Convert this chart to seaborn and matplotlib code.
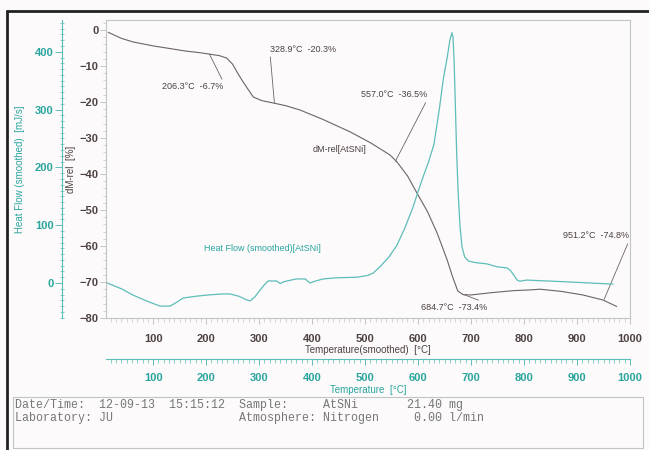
import matplotlib
matplotlib.use("Agg")
import matplotlib.pyplot as plt
from matplotlib.lines import Line2D
from matplotlib.patches import Rectangle
from matplotlib.ticker import MultipleLocator
import seaborn as sns
import pandas as pd

# dM-rel curve (temperature in °C, mass change in %)
dm_temp = [15, 40, 62, 100, 126, 160, 189, 207, 225, 239, 250, 258, 268, 277, 289,
           305, 328, 350, 377, 420, 472, 510, 547, 560, 580, 598, 618, 636, 655,
           665, 675, 685, 700, 736, 780, 811, 830, 870, 911, 949, 975]
dm_value = [-0.6, -2.3, -3.3, -4.4, -5.0, -5.8, -6.3, -6.7, -7.1, -7.8, -9.5, -11.6, -14.0, -16.0, -18.6,
            -19.6, -20.3, -21.0, -22.2, -24.8, -28.3, -31.3, -34.7, -36.6, -40.5, -45.3, -50.5, -56.4, -63.9,
            -68.5, -72.5, -73.5, -73.6, -73.0, -72.4, -72.2, -72.0, -72.6, -73.6, -75.0, -76.8]

# heat flow curve (temperature in °C, mJ/s)
hf_temp = [13, 40, 62, 90, 113, 132, 145, 157, 180, 201, 230, 245, 262, 277, 283, 292, 302, 310,
           317, 333, 337, 340, 346, 360, 371, 387, 392, 396, 405, 421, 447, 485, 505, 515, 528,
           545, 560, 575, 590, 600, 610, 620, 630, 640, 648, 655, 660, 664, 666, 668, 670, 673,
           676, 679, 683, 688, 695, 710, 730, 749, 768, 774, 782, 787, 792, 798, 805, 880, 968]
hf_value = [0, -10, -21, -32, -40, -40, -33, -26, -23, -21, -19, -19, -23, -29.5, -31, -24, -12, -3,
            3.5, 3.5, 1, -1, 2, 5, 7, 7, 3, 0, 3, 7, 9, 10, 13, 17, 28,
            45, 65, 95, 130, 158, 185, 210, 240, 300, 355, 390, 420, 433, 425, 385, 320, 220,
            150, 100, 62, 45, 38, 35, 33, 28, 26, 22, 12, 5, 3, 4, 5, 2, -2]

# step annotations on the dM-rel curve
step_temp = [206.3, 328.9, 557.0, 684.7, 951.2]
step_dm = [-6.7, -20.3, -36.5, -73.4, -74.8]
step_text = ["206.3°C  -6.7%", "328.9°C  -20.3%", "557.0°C  -36.5%",
             "684.7°C  -73.4%", "951.2°C  -74.8%"]

x_ticks = [100, 200, 300, 400, 500, 600, 700, 800, 900, 1000]
dm_ticks = [0, -10, -20, -30, -40, -50, -60, -70, -80]
hf_ticks = [0, 100, 200, 300, 400]

info_line1 = "Date/Time:  12-09-13  15:15:12  Sample:     AtSNi       21.40 mg"
info_line2 = "Laboratory: JU                  Atmosphere: Nitrogen     0.00 l/min"

DARK = "#6e6464"
DARK_TXT = "#4d4141"
CYAN = "#5dbdb8"
CYAN_TXT = "#2aa59e"
FRAME = "#c4c4c4"
BG = "#fcfafa"

sns.set_style("ticks")
plt.rcParams["font.family"] = ["Liberation Sans", "DejaVu Sans"]

W, H = 649, 450
PX = 72 / 100  # points per pixel at dpi 100
fig = plt.figure(figsize=(W / 100, H / 100), dpi=100, facecolor=BG)
ax = fig.add_axes([106 / W, 1 - 318 / H, 524 / W, 298 / H], facecolor=BG)

dm_df = pd.DataFrame({"T": dm_temp, "dM": dm_value})
hf_df = pd.DataFrame({"T": hf_temp, "HF": hf_value})

sns.lineplot(data=dm_df, x="T", y="dM", ax=ax, color=DARK, lw=0.8)
ax.set_xlim(11, 1000)
ax.set_ylim(-80, 2.8)

ax2 = ax.twinx()
sns.lineplot(data=hf_df, x="T", y="HF", ax=ax2, color=CYAN, lw=0.9)
ax2.set_ylim(-60.6, 455)
ax2.spines["left"].set_position(("outward", 44 * PX))
ax2.spines["left"].set_visible(True)
ax2.spines["left"].set_color(CYAN)
ax2.spines["right"].set_visible(False)
ax2.spines["top"].set_visible(False)
ax2.spines["bottom"].set_visible(False)
ax2.yaxis.set_ticks_position("left")
ax2.yaxis.set_label_position("left")
ax2.set_yticks(hf_ticks)
ax2.yaxis.set_minor_locator(MultipleLocator(10))
ax2.tick_params(axis="y", which="major", colors=CYAN, length=7 * PX, width=0.7, pad=1,
                labelsize=8, labelcolor=CYAN_TXT)
ax2.tick_params(axis="y", which="minor", colors=CYAN, length=4 * PX, width=0.5, direction="inout")
for t in ax2.get_yticklabels():
    t.set_fontweight("bold")
ax2.set_ylabel("Heat Flow (smoothed)  [mJ/s]", color=CYAN_TXT, fontsize=7)
ax2.yaxis.set_label_coords(-0.154, 0.5)
ax2.set_xlabel("")

for side in ["left", "right", "top", "bottom"]:
    ax.spines[side].set_visible(True)
    ax.spines[side].set_color(FRAME)
    ax.spines[side].set_linewidth(0.8)

ax.set_xticks(x_ticks)
ax.xaxis.set_minor_locator(MultipleLocator(10))
ax.set_yticks(dm_ticks)
ax.yaxis.set_minor_locator(MultipleLocator(2))
ax.tick_params(axis="both", which="major", colors=FRAME, length=6 * PX, width=0.7,
               labelsize=8, labelcolor=DARK_TXT)
ax.tick_params(axis="y", which="major", pad=1)
ax.tick_params(axis="x", which="major", pad=10 * PX)
ax.tick_params(axis="both", which="minor", colors=FRAME, length=3.5 * PX, width=0.5)
for t in ax.get_xticklabels() + ax.get_yticklabels():
    t.set_fontweight("bold")
ax.set_ylabel("dM-rel  [%]", color=DARK_TXT, fontsize=7)
ax.yaxis.set_label_coords(-0.057, 0.5)
ax.set_xlabel("Temperature(smoothed)  [°C]", color=DARK_TXT, fontsize=7, labelpad=1)

# second temperature axis (cyan)
sec = ax.secondary_xaxis(-0.1376)
sec.set_xticks(x_ticks)
sec.xaxis.set_minor_locator(MultipleLocator(10))
sec.spines["bottom"].set_color(CYAN)
sec.spines["bottom"].set_linewidth(0.8)
sec.tick_params(axis="x", which="major", colors=CYAN, length=6 * PX, width=0.7, pad=6,
                labelsize=8, labelcolor=CYAN_TXT)
sec.tick_params(axis="x", which="minor", colors=CYAN, length=3.5 * PX, width=0.5)
for t in sec.get_xticklabels():
    t.set_fontweight("bold")
sec.set_xlabel("Temperature  [°C]", color=CYAN_TXT, fontsize=7, labelpad=1)

# step annotations
text_pos = [(175, -15.8), (383, -5.3), (555, -18.0), (668, -77.2), (936, -57.2)]
rel_pos = [(1, 1), (0, 0), (1, 0), (1, 1), (1, 0)]
for T, dm, label, pos, rp in zip(step_temp, step_dm, step_text, text_pos, rel_pos):
    ax.annotate(label, xy=(T, dm), xytext=pos, ha="center", va="center",
                fontsize=6.5, color=DARK_TXT,
                arrowprops=dict(arrowstyle="-", color=DARK, lw=0.6, relpos=rp,
                                shrinkA=0, shrinkB=0))

ax.text(451, -33.3, "dM-rel[AtSNi]", ha="center", va="center", fontsize=6.5, color=DARK_TXT)
ax.text(306, -60.6, "Heat Flow (smoothed)[AtSNi]", ha="center", va="center",
        fontsize=6.5, color=CYAN_TXT)

# info box
fig.add_artist(Rectangle((13 / W, 1 - 448 / H), 630 / W, 51 / H, transform=fig.transFigure,
                         fill=False, edgecolor=FRAME, lw=0.8))
fig.text(15 / W, 1 - 405 / H, info_line1, family="Liberation Mono", fontsize=8.4,
         color="#777777", va="center")
fig.text(15 / W, 1 - 418 / H, info_line2, family="Liberation Mono", fontsize=8.4,
         color="#777777", va="center")

# scanned page border
fig.add_artist(Line2D([7 / W, 1], [1 - 11 / H, 1 - 11 / H], transform=fig.transFigure,
                      color="#222222", lw=2))
fig.add_artist(Line2D([7 / W, 7 / W], [0, 1 - 11 / H], transform=fig.transFigure,
                      color="#222222", lw=2))

fig.savefig("out.png", dpi=100, facecolor=BG)
